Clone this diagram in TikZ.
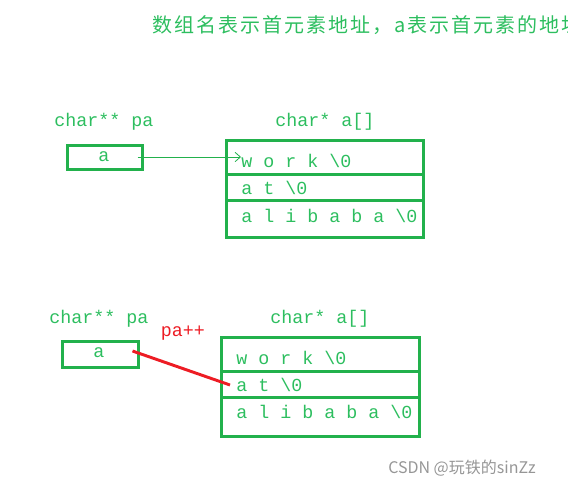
\documentclass[tikz,border=0pt]{standalone}
\usepackage{fontspec}
\usetikzlibrary{arrows.meta}
\newfontfamily\monof{Liberation Mono}
\newfontfamily\cjkf[LetterSpace=10]{Noto Sans CJK SC}
\newfontfamily\cjkw{Noto Sans CJK SC}
\definecolor{boxgreen}{RGB}{34,177,76}
\definecolor{txtgreen}{RGB}{45,190,95}
\definecolor{ptrred}{RGB}{237,28,36}
\definecolor{wmgray}{RGB}{150,150,150}
\tikzset{
  cell/.style={draw=boxgreen, line width=2.25pt, rectangle, inner sep=0pt},
  lbl/.style={text=txtgreen, inner sep=0pt, font=\monof\fontsize{13.75}{16}\selectfont},
  redlbl/.style={text=ptrred, inner sep=0pt, font=\monof\fontsize{13.75}{16}\selectfont},
  rowtxt/.style={lbl, anchor=west},
  thinarrow/.style={draw=boxgreen, line width=0.6pt, -{Straight Barb[length=4pt,width=7pt]}},
  redline/.style={draw=ptrred, line width=2.2pt}
}
\begin{document}
\begin{tikzpicture}[x=0.75pt,y=-0.75pt]
\useasboundingbox (0,0) rectangle (568,489);
% title
\node[anchor=west, inner sep=0pt, text=txtgreen, font=\cjkf\fontsize{15}{18}\selectfont] (title) at (152,25) {数组名表示首元素地址，a表示首元素的地址};

% ---- top diagram ----
\node[lbl] (lpa1) at (104,122) {char** pa};
\node[lbl] (la1) at (325,122) {char* a[]};
\node[cell, minimum width=56.25pt, minimum height=18pt] (pa1) at (104.5,157) {};
\node[lbl] (va1) at (104,157) {a};
\node[cell, minimum width=147.75pt, minimum height=25.5pt] (r11) at (324.5,157) {};
\node[cell, minimum width=147.75pt, minimum height=19.5pt] (r12) at (324.5,187) {};
\node[cell, minimum width=147.75pt, minimum height=27.75pt] (r13) at (324.5,218.5) {};
\node[rowtxt] (t11) at (241,161) {w o r k \textbackslash0};
\node[rowtxt] (t12) at (241,188) {a t \textbackslash0};
\node[rowtxt] (t13) at (241,216) {a l i b a b a \textbackslash0};
\draw[thinarrow] ([xshift=-4.5pt]pa1.east) -- (t11.west |- pa1.east);

% ---- bottom diagram ----
\node[lbl] (lpa2) at (99,319) {char** pa};
\node[lbl] (la2) at (320,319) {char* a[]};
\node[redlbl] (inc) at (183,333) {pa++};
\node[cell, minimum width=57pt, minimum height=19.5pt] (pa2) at (100,354) {};
\node[lbl] (va2) at (99,353) {a};
\node[cell, minimum width=148.5pt, minimum height=25.5pt] (r21) at (320,354) {};
\node[cell, minimum width=148.5pt, minimum height=19.5pt] (r22) at (320,384) {};
\node[cell, minimum width=148.5pt, minimum height=29.25pt] (r23) at (320,416.5) {};
\node[rowtxt] (t21) at (236,358) {w o r k \textbackslash0};
\node[rowtxt] (t22) at (236,385) {a t \textbackslash0};
\node[rowtxt] (t23) at (236,412) {a l i b a b a \textbackslash0};
\draw[redline] ([xshift=-5.25pt,yshift=2.25pt]pa2.east) -- ([xshift=-4.5pt]t22.west);

% watermark
\node[anchor=west, inner sep=0pt, text=wmgray, font=\cjkw\fontsize{12}{14}\selectfont] (wm) at (388,468) {CSDN @玩铁的sinZz};
\end{tikzpicture}
\end{document}
